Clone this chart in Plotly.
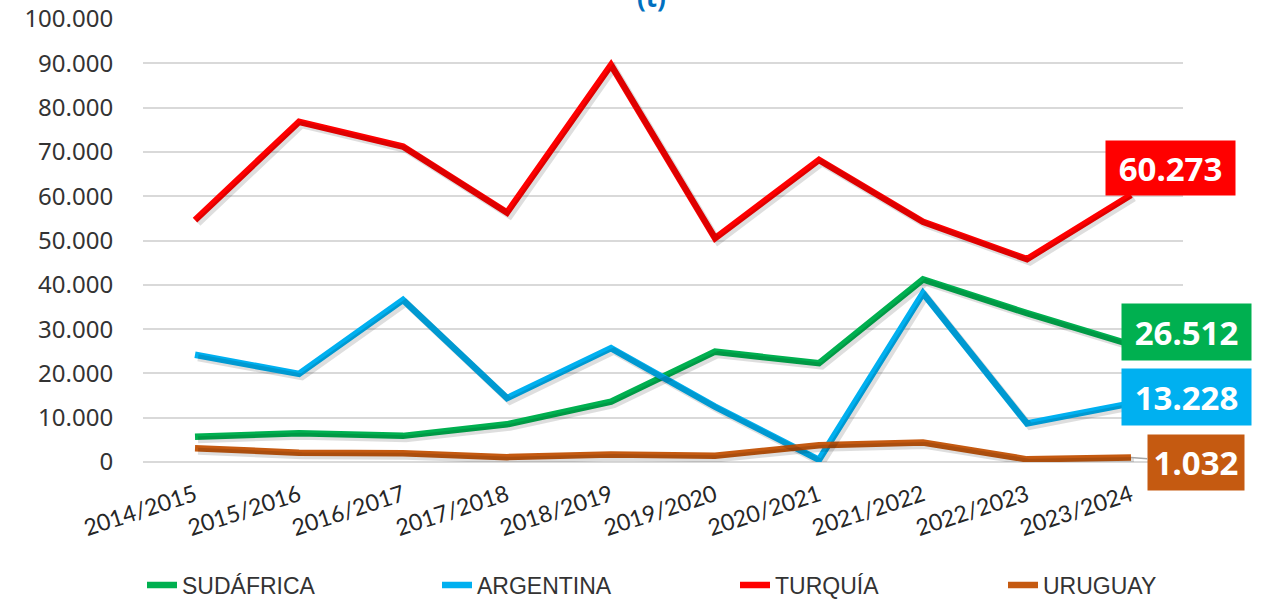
import plotly.graph_objects as go

# Campaigns (x axis) and tonnage per origin
campanas = ["2014/2015", "2015/2016", "2016/2017", "2017/2018", "2018/2019",
            "2019/2020", "2020/2021", "2021/2022", "2022/2023", "2023/2024"]

sudafrica = [5700, 6500, 5900, 8500, 13600, 24900, 22300, 41200, 33600, 26512]
argentina = [24200, 19900, 36600, 14400, 25700, 12500, 500, 38100, 8700, 13228]
turquia = [54600, 76800, 71200, 56300, 89600, 50500, 68200, 54200, 45800, 60273]
uruguay = [3100, 2100, 2000, 1100, 1700, 1400, 3800, 4400, 600, 1032]

series = [
    ("SUDÁFRICA", sudafrica, "#00B050"),
    ("ARGENTINA", argentina, "#00B0F0"),
    ("TURQUÍA", turquia, "#FF0000"),
    ("URUGUAY", uruguay, "#C55A11"),
]

y_ticks = list(range(0, 100001, 10000))

W, H = 1261, 602
M_L, M_R, M_T, M_B = 143, 78, 19, 140
plot_w = W - M_L - M_R
plot_h = H - M_T - M_B
y_max = 100000

# soft drop shadow: same series on a twin axis pair nudged a few pixels
shadow_px = 3
dx = shadow_px / (plot_w / len(campanas))
dy = shadow_px * y_max / plot_h

fig = go.Figure()

for name, vals, color in series:
    fig.add_trace(go.Scatter(
        x=campanas, y=vals, mode="lines", xaxis="x2", yaxis="y2",
        line=dict(color="rgba(0,0,0,0.13)", width=7),
        hoverinfo="skip", showlegend=False,
    ))

# one legend per series so each entry sits at its own spot along the bottom
legend_px = [142, 437, 735, 1003]
legend_ids = ["legend", "legend2", "legend3", "legend4"]
for (name, vals, color), lid in zip(series, legend_ids):
    fig.add_trace(go.Scatter(
        x=campanas, y=vals, mode="lines", name=name, legend=lid,
        line=dict(color=color, width=6.5),
    ))

# value boxes for the last campaign
label_fmt = lambda v: f"{v:,}".replace(",", ".")
boxes = [
    (turquia, "#FF0000", 39, 27, 121, 46),
    (sudafrica, "#00B050", 55, 13, 121, 48),
    (argentina, "#00B0F0", 55, 6, 121, 48),
]
for vals, color, xs, ys, bw, bh in boxes:
    fig.add_annotation(
        x=campanas[-1], y=vals[-1], xref="x", yref="y",
        text=f"<b>{label_fmt(vals[-1])}</b>", showarrow=False,
        xshift=xs, yshift=ys, width=bw, height=bh,
        bgcolor=color, borderpad=4,
        font=dict(family="Noto Sans", size=33, color="white"),
    )
fig.add_annotation(
    x=campanas[-1], y=uruguay[-1], xref="x", yref="y",
    text=f"<b>{label_fmt(uruguay[-1])}</b>", showarrow=True,
    arrowhead=0, arrowwidth=1.5, arrowcolor="#A6A6A6",
    ax=65, ay=5, width=88, height=47,
    bgcolor="#C55A11", borderpad=4,
    font=dict(family="Noto Sans", size=33, color="white"),
)

# title, mostly above the visible area
fig.add_annotation(
    x=(651 - M_L) / plot_w, y=1, xref="paper", yref="paper",
    yanchor="bottom", yshift=2, showarrow=False,
    text="<b>(t)</b>",
    font=dict(family="Noto Sans", size=26, color="#0070C0"),
)

legend_style = dict(
    orientation="h", xanchor="left", yanchor="middle",
    y=(M_T + plot_h - 585) / plot_h,
    font=dict(family="Liberation Sans", size=23, color="#333333"),
    bgcolor="rgba(0,0,0,0)",
)
legends = {
    lid: dict(legend_style, x=(px - M_L) / plot_w)
    for lid, px in zip(legend_ids, legend_px)
}

fig.update_layout(
    width=W, height=H,
    margin=dict(l=M_L, r=M_R, t=M_T, b=M_B, autoexpand=False),
    paper_bgcolor="white", plot_bgcolor="white",
    separators=",.",
    showlegend=True,
    **legends,
    xaxis=dict(
        type="category", categoryorder="array", categoryarray=campanas,
        range=[-0.5, len(campanas) - 0.5], automargin=False,
        showgrid=False, showline=False, zeroline=False,
        tickangle=-18, ticks="outside", ticklen=10, tickcolor="rgba(0,0,0,0)",
        tickfont=dict(family="Lato", size=23, color="#262626"),
    ),
    yaxis=dict(
        range=[0, y_max], tickvals=y_ticks, tickformat=",d", automargin=False,
        showgrid=True, gridcolor="#D9D9D9", gridwidth=1.5,
        zeroline=True, zerolinecolor="#D9D9D9", zerolinewidth=1.5,
        showline=False,
        ticks="outside", ticklen=24, tickcolor="rgba(0,0,0,0)",
        tickfont=dict(family="Noto Sans", size=24, color="#333333"),
    ),
    xaxis2=dict(
        type="category", categoryorder="array", categoryarray=campanas,
        overlaying="x", range=[-0.5 - dx, len(campanas) - 0.5 - dx],
        visible=False,
    ),
    yaxis2=dict(
        overlaying="y", range=[dy, y_max + dy], visible=False,
    ),
)

fig.write_html("out.html")
